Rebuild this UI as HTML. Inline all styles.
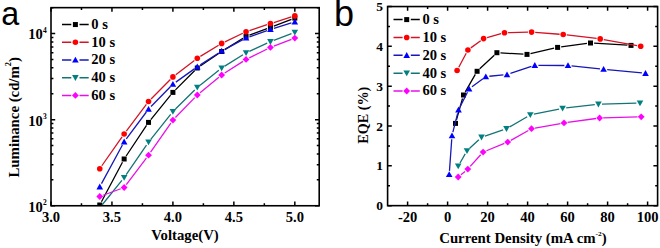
<!DOCTYPE html>
<html><head><meta charset="utf-8"><style>
html,body{margin:0;padding:0;background:#fff;}
svg{display:block;}
.s{font-family:"Liberation Serif",serif;font-weight:bold;fill:#000;}
.p{font-family:"Liberation Sans",sans-serif;fill:#000;}
</style></head><body>
<svg width="660" height="248" viewBox="0 0 660 248">
<defs>
<clipPath id="ca"><rect x="51.0" y="7.65" width="268.20" height="198.10"/></clipPath>
<clipPath id="cb"><rect x="387.6" y="6.55" width="270.00" height="199.10"/></clipPath>
</defs>
<path d="M51.00,205.75v-4.2M51.00,7.65v4.2M111.95,205.75v-4.2M111.95,7.65v4.2M172.91,205.75v-4.2M172.91,7.65v4.2M233.86,205.75v-4.2M233.86,7.65v4.2M294.82,205.75v-4.2M294.82,7.65v4.2M81.48,205.75v-2.4M81.48,7.65v2.4M142.43,205.75v-2.4M142.43,7.65v2.4M203.39,205.75v-2.4M203.39,7.65v2.4M264.34,205.75v-2.4M264.34,7.65v2.4M51.0,205.75h4.2M319.2,205.75h-4.2M51.0,179.83h2.4M319.2,179.83h-2.4M51.0,164.67h2.4M319.2,164.67h-2.4M51.0,153.91h2.4M319.2,153.91h-2.4M51.0,145.57h2.4M319.2,145.57h-2.4M51.0,138.75h2.4M319.2,138.75h-2.4M51.0,132.99h2.4M319.2,132.99h-2.4M51.0,127.99h2.4M319.2,127.99h-2.4M51.0,123.59h2.4M319.2,123.59h-2.4M51.0,119.65h4.2M319.2,119.65h-4.2M51.0,93.73h2.4M319.2,93.73h-2.4M51.0,78.57h2.4M319.2,78.57h-2.4M51.0,67.81h2.4M319.2,67.81h-2.4M51.0,59.47h2.4M319.2,59.47h-2.4M51.0,52.65h2.4M319.2,52.65h-2.4M51.0,46.89h2.4M319.2,46.89h-2.4M51.0,41.89h2.4M319.2,41.89h-2.4M51.0,37.49h2.4M319.2,37.49h-2.4M51.0,33.55h4.2M319.2,33.55h-4.2M51.0,7.63h2.4M319.2,7.63h-2.4M407.60,205.65v-4.2M407.60,6.55v4.2M447.60,205.65v-4.2M447.60,6.55v4.2M487.60,205.65v-4.2M487.60,6.55v4.2M527.60,205.65v-4.2M527.60,6.55v4.2M567.60,205.65v-4.2M567.60,6.55v4.2M607.60,205.65v-4.2M607.60,6.55v4.2M647.60,205.65v-4.2M647.60,6.55v4.2M427.60,205.65v-2.4M427.60,6.55v2.4M467.60,205.65v-2.4M467.60,6.55v2.4M507.60,205.65v-2.4M507.60,6.55v2.4M547.60,205.65v-2.4M547.60,6.55v2.4M587.60,205.65v-2.4M587.60,6.55v2.4M627.60,205.65v-2.4M627.60,6.55v2.4M387.6,205.65h4.2M657.6,205.65h-4.2M387.6,165.83h4.2M657.6,165.83h-4.2M387.6,126.01h4.2M657.6,126.01h-4.2M387.6,86.19h4.2M657.6,86.19h-4.2M387.6,46.37h4.2M657.6,46.37h-4.2M387.6,6.55h4.2M657.6,6.55h-4.2M387.6,185.74h2.4M657.6,185.74h-2.4M387.6,145.92h2.4M657.6,145.92h-2.4M387.6,106.10h2.4M657.6,106.10h-2.4M387.6,66.28h2.4M657.6,66.28h-2.4M387.6,26.46h2.4M657.6,26.46h-2.4" stroke="#000" stroke-width="1.5" fill="none"/>
<g clip-path="url(#ca)"><path fill="none" stroke="#000000" stroke-width="1.30" d="M101.45,201.82L122.46,162.18M126.14,156.00L146.53,125.40M150.80,119.61L170.64,95.19M175.45,89.85L194.75,70.55M200.27,65.98L218.69,53.52M224.73,49.60L243.00,38.20M249.44,35.07L267.05,28.63M273.80,26.12L291.45,19.38"/><rect x="97.26" y="202.50" width="5.00" height="5.00" fill="#000000"/><rect x="121.65" y="156.50" width="5.00" height="5.00" fill="#000000"/><rect x="146.03" y="119.90" width="5.00" height="5.00" fill="#000000"/><rect x="170.41" y="89.90" width="5.00" height="5.00" fill="#000000"/><rect x="194.79" y="65.50" width="5.00" height="5.00" fill="#000000"/><rect x="219.17" y="49.00" width="5.00" height="5.00" fill="#000000"/><rect x="243.55" y="33.80" width="5.00" height="5.00" fill="#000000"/><rect x="267.94" y="24.90" width="5.00" height="5.00" fill="#000000"/><rect x="292.32" y="15.60" width="5.00" height="5.00" fill="#000000"/></g>
<g clip-path="url(#ca)"><path fill="none" stroke="#d41424" stroke-width="1.30" d="M101.83,165.75L122.08,136.95M126.31,131.12L146.37,104.38M151.06,98.94L170.37,79.46M175.77,74.72L194.43,60.48M200.36,56.42L218.60,45.28M224.92,41.84L242.81,33.26M249.47,30.57L267.02,24.73M273.87,22.52L291.39,16.98"/><circle cx="99.76" cy="168.70" r="2.80" fill="#ff0000"/><circle cx="124.15" cy="134.00" r="2.80" fill="#ff0000"/><circle cx="148.53" cy="101.50" r="2.80" fill="#ff0000"/><circle cx="172.91" cy="76.90" r="2.80" fill="#ff0000"/><circle cx="197.29" cy="58.30" r="2.80" fill="#ff0000"/><circle cx="221.67" cy="43.40" r="2.80" fill="#ff0000"/><circle cx="246.05" cy="31.70" r="2.80" fill="#ff0000"/><circle cx="270.44" cy="23.60" r="2.80" fill="#ff0000"/><circle cx="294.82" cy="15.90" r="2.80" fill="#ff0000"/></g>
<g clip-path="url(#ca)"><path fill="none" stroke="#1818b8" stroke-width="1.30" d="M101.48,183.63L122.43,144.97M126.30,138.91L146.38,111.99M151.05,106.53L170.39,86.77M175.84,82.11L194.36,68.89M200.31,64.84L218.65,52.96M224.85,49.31L242.88,39.69M249.45,36.80L267.04,30.60M273.88,28.34L291.38,22.96"/><path d="M99.76,183.60 L103.06,189.40 L96.46,189.40Z" fill="#0000ff"/><path d="M124.15,138.60 L127.45,144.40 L120.85,144.40Z" fill="#0000ff"/><path d="M148.53,105.90 L151.83,111.70 L145.23,111.70Z" fill="#0000ff"/><path d="M172.91,81.00 L176.21,86.80 L169.61,86.80Z" fill="#0000ff"/><path d="M197.29,63.60 L200.59,69.40 L193.99,69.40Z" fill="#0000ff"/><path d="M221.67,47.80 L224.97,53.60 L218.37,53.60Z" fill="#0000ff"/><path d="M246.05,34.80 L249.35,40.60 L242.75,40.60Z" fill="#0000ff"/><path d="M270.44,26.20 L273.74,32.00 L267.14,32.00Z" fill="#0000ff"/><path d="M294.82,18.70 L298.12,24.50 L291.52,24.50Z" fill="#0000ff"/></g>
<g clip-path="url(#ca)"><path fill="none" stroke="#147474" stroke-width="1.30" d="M102.02,205.00L121.89,180.30M126.19,174.54L146.49,145.06M150.78,139.29L170.66,114.41M175.46,109.06L194.74,89.94M200.11,85.16L218.86,70.24M224.73,66.10L242.99,54.80M249.33,51.40L267.17,43.20M273.80,40.40L291.46,33.60"/><path d="M99.76,211.00 L103.06,205.20 L96.46,205.20Z" fill="#008080"/><path d="M124.15,180.70 L127.45,174.90 L120.85,174.90Z" fill="#008080"/><path d="M148.53,145.30 L151.83,139.50 L145.23,139.50Z" fill="#008080"/><path d="M172.91,114.80 L176.21,109.00 L169.61,109.00Z" fill="#008080"/><path d="M197.29,90.60 L200.59,84.80 L193.99,84.80Z" fill="#008080"/><path d="M221.67,71.20 L224.97,65.40 L218.37,65.40Z" fill="#008080"/><path d="M246.05,56.10 L249.35,50.30 L242.75,50.30Z" fill="#008080"/><path d="M270.44,44.90 L273.74,39.10 L267.14,39.10Z" fill="#008080"/><path d="M294.82,35.50 L298.12,29.70 L291.52,29.70Z" fill="#008080"/></g>
<g clip-path="url(#ca)"><path fill="none" stroke="#e810e8" stroke-width="1.30" d="M103.14,195.25L120.77,188.75M126.31,184.63L146.36,158.07M150.58,152.24L170.86,123.06M175.42,117.52L194.78,97.58M200.07,92.72L218.89,77.28M224.71,73.06L243.02,61.34M249.28,57.81L267.21,48.99M273.80,46.12L291.45,39.38"/><path d="M99.76,193.10 L103.16,196.50 L99.76,199.90 L96.36,196.50Z" fill="#ff00ff"/><path d="M124.15,184.10 L127.55,187.50 L124.15,190.90 L120.75,187.50Z" fill="#ff00ff"/><path d="M148.53,151.80 L151.93,155.20 L148.53,158.60 L145.13,155.20Z" fill="#ff00ff"/><path d="M172.91,116.70 L176.31,120.10 L172.91,123.50 L169.51,120.10Z" fill="#ff00ff"/><path d="M197.29,91.60 L200.69,95.00 L197.29,98.40 L193.89,95.00Z" fill="#ff00ff"/><path d="M221.67,71.60 L225.07,75.00 L221.67,78.40 L218.27,75.00Z" fill="#ff00ff"/><path d="M246.05,56.00 L249.45,59.40 L246.05,62.80 L242.65,59.40Z" fill="#ff00ff"/><path d="M270.44,44.00 L273.84,47.40 L270.44,50.80 L267.04,47.40Z" fill="#ff00ff"/><path d="M294.82,34.70 L298.22,38.10 L294.82,41.50 L291.42,38.10Z" fill="#ff00ff"/></g>
<g clip-path="url(#cb)"><path fill="none" stroke="#000000" stroke-width="1.30" d="M456.48,119.93L462.52,98.47M465.29,91.88L475.31,74.42M479.72,68.84L494.28,55.16M500.49,52.90L523.41,54.20M530.51,53.60L554.09,48.20M561.17,46.92L586.93,43.48M594.09,43.21L627.41,45.19"/><rect x="453.00" y="120.90" width="5.00" height="5.00" fill="#000000"/><rect x="461.00" y="92.50" width="5.00" height="5.00" fill="#000000"/><rect x="474.60" y="68.80" width="5.00" height="5.00" fill="#000000"/><rect x="494.40" y="50.20" width="5.00" height="5.00" fill="#000000"/><rect x="524.50" y="51.90" width="5.00" height="5.00" fill="#000000"/><rect x="555.10" y="44.90" width="5.00" height="5.00" fill="#000000"/><rect x="588.00" y="40.50" width="5.00" height="5.00" fill="#000000"/><rect x="628.50" y="42.90" width="5.00" height="5.00" fill="#000000"/></g>
<g clip-path="url(#cb)"><path fill="none" stroke="#d41424" stroke-width="1.30" d="M458.78,67.31L466.22,53.19M470.81,47.88L480.69,40.72M487.06,37.62L501.04,33.68M508.10,32.62L528.00,32.18M535.19,32.37L559.61,34.23M566.77,34.93L596.63,38.47M603.74,39.54L637.16,45.56"/><circle cx="457.10" cy="70.50" r="2.80" fill="#ff0000"/><circle cx="467.90" cy="50.00" r="2.80" fill="#ff0000"/><circle cx="483.60" cy="38.60" r="2.80" fill="#ff0000"/><circle cx="504.50" cy="32.70" r="2.80" fill="#ff0000"/><circle cx="531.60" cy="32.10" r="2.80" fill="#ff0000"/><circle cx="563.20" cy="34.50" r="2.80" fill="#ff0000"/><circle cx="600.20" cy="38.90" r="2.80" fill="#ff0000"/><circle cx="640.70" cy="46.20" r="2.80" fill="#ff0000"/></g>
<g clip-path="url(#cb)"><path fill="none" stroke="#1818b8" stroke-width="1.30" d="M449.46,170.91L451.74,139.29M452.88,132.21L457.62,113.29M460.13,106.59L467.47,92.21M471.99,86.85L482.91,78.75M489.38,76.26L503.42,74.94M510.41,73.46L531.39,66.44M538.40,65.32L564.40,65.48M571.58,65.87L600.02,68.83M607.18,69.55L641.92,72.95"/><path d="M449.20,171.30 L452.50,177.10 L445.90,177.10Z" fill="#0000ff"/><path d="M452.00,132.50 L455.30,138.30 L448.70,138.30Z" fill="#0000ff"/><path d="M458.50,106.60 L461.80,112.40 L455.20,112.40Z" fill="#0000ff"/><path d="M469.10,85.80 L472.40,91.60 L465.80,91.60Z" fill="#0000ff"/><path d="M485.80,73.40 L489.10,79.20 L482.50,79.20Z" fill="#0000ff"/><path d="M507.00,71.40 L510.30,77.20 L503.70,77.20Z" fill="#0000ff"/><path d="M534.80,62.10 L538.10,67.90 L531.50,67.90Z" fill="#0000ff"/><path d="M568.00,62.30 L571.30,68.10 L564.70,68.10Z" fill="#0000ff"/><path d="M603.60,66.00 L606.90,71.80 L600.30,71.80Z" fill="#0000ff"/><path d="M645.50,70.10 L648.80,75.90 L642.20,75.90Z" fill="#0000ff"/></g>
<g clip-path="url(#cb)"><path fill="none" stroke="#147474" stroke-width="1.30" d="M459.99,162.98L465.21,153.92M469.63,148.34L478.87,139.66M484.91,136.04L503.09,129.86M509.61,126.89L527.19,116.71M533.83,114.18L559.07,109.02M566.18,107.89L594.82,104.61M602.00,104.10L636.40,103.10"/><path d="M458.20,169.30 L461.50,163.50 L454.90,163.50Z" fill="#008080"/><path d="M467.00,154.00 L470.30,148.20 L463.70,148.20Z" fill="#008080"/><path d="M481.50,140.40 L484.80,134.60 L478.20,134.60Z" fill="#008080"/><path d="M506.50,131.90 L509.80,126.10 L503.20,126.10Z" fill="#008080"/><path d="M530.30,118.10 L533.60,112.30 L527.00,112.30Z" fill="#008080"/><path d="M562.60,111.50 L565.90,105.70 L559.30,105.70Z" fill="#008080"/><path d="M598.40,107.40 L601.70,101.60 L595.10,101.60Z" fill="#008080"/><path d="M640.00,106.20 L643.30,100.40 L636.70,100.40Z" fill="#008080"/></g>
<g clip-path="url(#cb)"><path fill="none" stroke="#e810e8" stroke-width="1.30" d="M460.98,174.71L465.02,171.39M470.21,166.42L480.69,154.78M486.43,150.74L504.37,143.46M510.84,140.33L528.36,130.47M535.04,128.07L560.46,123.53M567.57,122.41L596.03,118.49M603.20,117.90L637.60,116.90"/><path d="M458.20,173.60 L461.60,177.00 L458.20,180.40 L454.80,177.00Z" fill="#ff00ff"/><path d="M467.80,165.70 L471.20,169.10 L467.80,172.50 L464.40,169.10Z" fill="#ff00ff"/><path d="M483.10,148.70 L486.50,152.10 L483.10,155.50 L479.70,152.10Z" fill="#ff00ff"/><path d="M507.70,138.70 L511.10,142.10 L507.70,145.50 L504.30,142.10Z" fill="#ff00ff"/><path d="M531.50,125.30 L534.90,128.70 L531.50,132.10 L528.10,128.70Z" fill="#ff00ff"/><path d="M564.00,119.50 L567.40,122.90 L564.00,126.30 L560.60,122.90Z" fill="#ff00ff"/><path d="M599.60,114.60 L603.00,118.00 L599.60,121.40 L596.20,118.00Z" fill="#ff00ff"/><path d="M641.20,113.40 L644.60,116.80 L641.20,120.20 L637.80,116.80Z" fill="#ff00ff"/></g>
<rect x="51.0" y="7.65" width="268.20" height="198.10" fill="none" stroke="#000" stroke-width="1.6"/>
<rect x="387.6" y="6.55" width="270.00" height="199.10" fill="none" stroke="#000" stroke-width="1.6"/>
<path d="M62.0,24.55H71.30M79.50,24.55H88.7" stroke="#000000" stroke-width="1.5"/><rect x="72.90" y="22.05" width="5.00" height="5.00" fill="#000000"/><text x="91.30" y="28.95" class="s" font-size="14.0" textLength="16.59" lengthAdjust="spacingAndGlyphs">0 s</text><path d="M62.0,42.27H71.30M79.50,42.27H88.7" stroke="#d41424" stroke-width="1.5"/><circle cx="75.40" cy="42.27" r="2.80" fill="#ff0000"/><text x="91.30" y="46.67" class="s" font-size="14.0" textLength="23.87" lengthAdjust="spacingAndGlyphs">10 s</text><path d="M62.0,59.99H71.30M79.50,59.99H88.7" stroke="#1818b8" stroke-width="1.5"/><path d="M75.40,56.79 L78.70,62.59 L72.10,62.59Z" fill="#0000ff"/><text x="91.30" y="64.39" class="s" font-size="14.0" textLength="23.87" lengthAdjust="spacingAndGlyphs">20 s</text><path d="M62.0,77.71H71.30M79.50,77.71H88.7" stroke="#147474" stroke-width="1.5"/><path d="M75.40,80.91 L78.70,75.11 L72.10,75.11Z" fill="#008080"/><text x="91.30" y="82.11" class="s" font-size="14.0" textLength="23.87" lengthAdjust="spacingAndGlyphs">40 s</text><path d="M62.0,95.43H71.30M79.50,95.43H88.7" stroke="#e810e8" stroke-width="1.5"/><path d="M75.40,92.03 L78.80,95.43 L75.40,98.83 L72.00,95.43Z" fill="#ff00ff"/><text x="91.30" y="99.83" class="s" font-size="14.0" textLength="23.87" lengthAdjust="spacingAndGlyphs">60 s</text>
<path d="M393.5,19.60H402.60M410.80,19.60H419.8" stroke="#000000" stroke-width="1.5"/><rect x="404.20" y="17.10" width="5.00" height="5.00" fill="#000000"/><text x="422.40" y="24.00" class="s" font-size="14.0" textLength="16.59" lengthAdjust="spacingAndGlyphs">0 s</text><path d="M393.5,37.45H402.60M410.80,37.45H419.8" stroke="#d41424" stroke-width="1.5"/><circle cx="406.70" cy="37.45" r="2.80" fill="#ff0000"/><text x="422.40" y="41.85" class="s" font-size="14.0" textLength="23.87" lengthAdjust="spacingAndGlyphs">10 s</text><path d="M393.5,55.30H402.60M410.80,55.30H419.8" stroke="#1818b8" stroke-width="1.5"/><path d="M406.70,52.10 L410.00,57.90 L403.40,57.90Z" fill="#0000ff"/><text x="422.40" y="59.70" class="s" font-size="14.0" textLength="23.87" lengthAdjust="spacingAndGlyphs">20 s</text><path d="M393.5,73.15H402.60M410.80,73.15H419.8" stroke="#147474" stroke-width="1.5"/><path d="M406.70,76.35 L410.00,70.55 L403.40,70.55Z" fill="#008080"/><text x="422.40" y="77.55" class="s" font-size="14.0" textLength="23.87" lengthAdjust="spacingAndGlyphs">40 s</text><path d="M393.5,91.00H402.60M410.80,91.00H419.8" stroke="#e810e8" stroke-width="1.5"/><path d="M406.70,87.60 L410.10,91.00 L406.70,94.40 L403.30,91.00Z" fill="#ff00ff"/><text x="422.40" y="95.40" class="s" font-size="14.0" textLength="23.87" lengthAdjust="spacingAndGlyphs">60 s</text>
<text x="51.00" y="221.70" class="s" font-size="14.0" text-anchor="middle" textLength="18.20" lengthAdjust="spacingAndGlyphs">3.0</text>
<text x="111.95" y="221.70" class="s" font-size="14.0" text-anchor="middle" textLength="18.20" lengthAdjust="spacingAndGlyphs">3.5</text>
<text x="172.91" y="221.70" class="s" font-size="14.0" text-anchor="middle" textLength="18.20" lengthAdjust="spacingAndGlyphs">4.0</text>
<text x="233.86" y="221.70" class="s" font-size="14.0" text-anchor="middle" textLength="18.20" lengthAdjust="spacingAndGlyphs">4.5</text>
<text x="294.82" y="221.70" class="s" font-size="14.0" text-anchor="middle" textLength="18.20" lengthAdjust="spacingAndGlyphs">5.0</text>
<text x="42.90" y="211.65" class="s" font-size="13.6" text-anchor="end" textLength="14.55" lengthAdjust="spacingAndGlyphs">10</text>
<text x="43.10" y="205.15" class="s" font-size="7.2" textLength="3.74" lengthAdjust="spacingAndGlyphs">2</text>
<text x="42.90" y="125.55" class="s" font-size="13.6" text-anchor="end" textLength="14.55" lengthAdjust="spacingAndGlyphs">10</text>
<text x="43.10" y="119.05" class="s" font-size="7.2" textLength="3.74" lengthAdjust="spacingAndGlyphs">3</text>
<text x="42.90" y="39.45" class="s" font-size="13.6" text-anchor="end" textLength="14.55" lengthAdjust="spacingAndGlyphs">10</text>
<text x="43.10" y="32.95" class="s" font-size="7.2" textLength="3.74" lengthAdjust="spacingAndGlyphs">4</text>
<text x="407.60" y="221.80" class="s" font-size="14.0" text-anchor="middle" textLength="19.41" lengthAdjust="spacingAndGlyphs">-20</text>
<text x="447.60" y="221.80" class="s" font-size="14.0" text-anchor="middle" textLength="7.28" lengthAdjust="spacingAndGlyphs">0</text>
<text x="487.60" y="221.80" class="s" font-size="14.0" text-anchor="middle" textLength="14.56" lengthAdjust="spacingAndGlyphs">20</text>
<text x="527.60" y="221.80" class="s" font-size="14.0" text-anchor="middle" textLength="14.56" lengthAdjust="spacingAndGlyphs">40</text>
<text x="567.60" y="221.80" class="s" font-size="14.0" text-anchor="middle" textLength="14.56" lengthAdjust="spacingAndGlyphs">60</text>
<text x="607.60" y="221.80" class="s" font-size="14.0" text-anchor="middle" textLength="14.56" lengthAdjust="spacingAndGlyphs">80</text>
<text x="647.60" y="221.80" class="s" font-size="14.0" text-anchor="middle" textLength="21.84" lengthAdjust="spacingAndGlyphs">100</text>
<text x="383.10" y="210.15" class="s" font-size="13.5" text-anchor="end" textLength="6.75" lengthAdjust="spacingAndGlyphs">0</text>
<text x="383.10" y="170.33" class="s" font-size="13.5" text-anchor="end" textLength="6.75" lengthAdjust="spacingAndGlyphs">1</text>
<text x="383.10" y="130.51" class="s" font-size="13.5" text-anchor="end" textLength="6.75" lengthAdjust="spacingAndGlyphs">2</text>
<text x="383.10" y="90.69" class="s" font-size="13.5" text-anchor="end" textLength="6.75" lengthAdjust="spacingAndGlyphs">3</text>
<text x="383.10" y="50.87" class="s" font-size="13.5" text-anchor="end" textLength="6.75" lengthAdjust="spacingAndGlyphs">4</text>
<text x="383.10" y="11.05" class="s" font-size="13.5" text-anchor="end" textLength="6.75" lengthAdjust="spacingAndGlyphs">5</text>
<text x="185.00" y="240.00" class="s" font-size="14" text-anchor="middle" textLength="67.50" lengthAdjust="spacingAndGlyphs">Voltage(V)</text>
<text x="439.2" y="242.7" class="s" font-size="14" textLength="167.5" lengthAdjust="spacingAndGlyphs">Current Density (mA cm<tspan dy="-6.5" font-size="7">-2</tspan><tspan dy="6.5">)</tspan></text>
<text transform="translate(18.6,117.3) rotate(-90)" class="s" font-size="14" text-anchor="middle" textLength="120.5" lengthAdjust="spacingAndGlyphs">Luminance (cd/m<tspan dy="-7.2" font-size="8">2</tspan><tspan dy="7.2">)</tspan></text>
<text transform="translate(367.5,115.2) rotate(-90)" class="s" font-size="14" text-anchor="middle" textLength="57" lengthAdjust="spacingAndGlyphs">EQE (%)</text>
<text transform="translate(1.2,24.6) scale(0.95,1)" class="p" font-size="34">a</text>
<text x="334.0" y="26.3" class="p" font-size="36">b</text>
</svg>
</body></html>
